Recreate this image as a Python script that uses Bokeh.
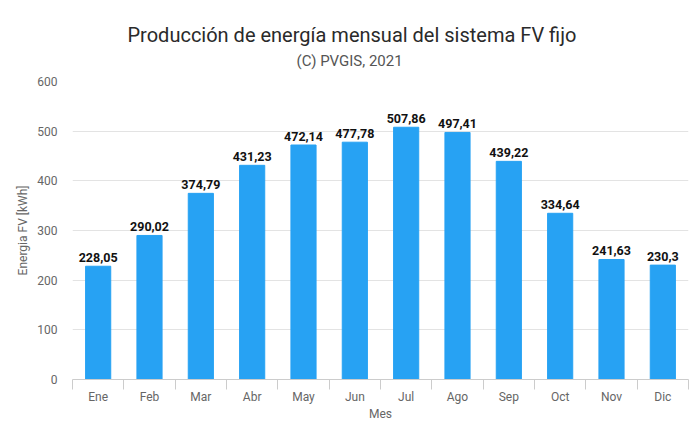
from bokeh.plotting import figure
from bokeh.models import ColumnDataSource, FixedTicker, Title, Range1d
from bokeh.embed import file_html
from bokeh.resources import INLINE

months = ["Ene", "Feb", "Mar", "Abr", "May", "Jun", "Jul", "Ago", "Sep", "Oct", "Nov", "Dic"]
energy = [228.05, 290.02, 374.79, 431.23, 472.14, 477.78, 507.86, 497.41, 439.22, 334.64, 241.63, 230.3]
y_ticks = [0, 100, 200, 300, 400, 500, 600]

xs = [i + 0.5 for i in range(len(months))]
labels = [str(v).replace(".", ",") for v in energy]
src = ColumnDataSource(dict(x=xs, top=energy, label=labels))

FONT = "Roboto"

p = figure(width=690, height=423, output_backend="svg", toolbar_location=None,
           x_range=Range1d(0, 12), y_range=Range1d(0, 600),
           min_border_left=72, min_border_right=2, min_border_top=81, min_border_bottom=44)
p.outline_line_color = None

p.vbar(x="x", top="top", width=0.49, bottom=0, source=src, color="#27a2f3")
p.text(x="x", y="top", text="label", source=src, text_align="center", text_baseline="bottom",
       y_offset=-4, text_font_size="12.5px", text_font_style="bold", text_color="#111111",
       text_font={"value": FONT})

# titles
sub = Title(text="(C) PVGIS, 2021", align="left", text_font_size="15px", text_font=FONT,
            text_color="#555555", text_font_style="normal", offset=224, standoff=23)
p.add_layout(sub, "above")
main = Title(text="Producción de energía mensual del sistema FV fijo", align="left",
             text_font_size="20px", text_font=FONT, text_color="#2a2a2a",
             text_font_style="normal", offset=55, standoff=-17)
p.add_layout(main, "above")

# x axis
xa = p.xaxis[0]
xa.ticker = FixedTicker(ticks=xs, minor_ticks=list(range(0, 13)))
xa.major_label_overrides = {x: m for x, m in zip(xs, months)}
xa.major_tick_line_color = None
xa.major_tick_out = 0
xa.major_tick_in = 0
xa.minor_tick_out = 10
xa.minor_tick_in = 0
xa.minor_tick_line_color = "#cccccc"
xa.axis_line_color = "#cccccc"
xa.major_label_text_font = FONT
xa.major_label_text_font_size = "12px"
xa.major_label_text_color = "#666666"
xa.major_label_standoff = 0
xa.axis_label = "Mes"
xa.axis_label_text_font = FONT
xa.axis_label_text_font_size = "12px"
xa.axis_label_text_font_style = "normal"
xa.axis_label_text_color = "#666666"
xa.axis_label_standoff = 0

# y axis
ya = p.yaxis[0]
ya.ticker = FixedTicker(ticks=y_ticks)
ya.axis_line_color = None
ya.major_tick_line_color = None
ya.minor_tick_line_color = None
ya.major_tick_out = 0
ya.major_tick_in = 0
ya.major_label_standoff = 15
ya.major_label_text_font = FONT
ya.major_label_text_font_size = "12px"
ya.major_label_text_color = "#666666"
ya.axis_label = "Energia FV [kWh]"
ya.axis_label_text_font = FONT
ya.axis_label_text_font_size = "12px"
ya.axis_label_text_font_style = "normal"
ya.axis_label_text_color = "#666666"
ya.axis_label_standoff = 4

p.xgrid.grid_line_color = None
p.ygrid.grid_line_color = "#e3e3e3"

open("out.html", "w").write(file_html(p, INLINE))
